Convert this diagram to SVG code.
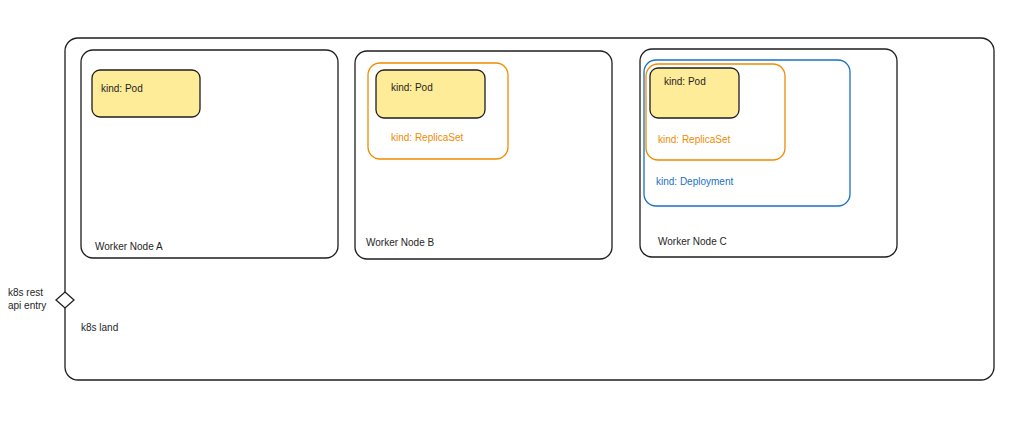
<svg xmlns="http://www.w3.org/2000/svg" width="1024" height="441" viewBox="0 0 1024 441">
<style>
.box{fill:none;stroke:#1e1e1e;stroke-width:1.3}
.pod{fill:#ffec99;stroke:#1e1e1e;stroke-width:1.3}
.rs{fill:none;stroke:#f08c00;stroke-width:1.3}
.dep{fill:none;stroke:#1971c2;stroke-width:1.3}
text{font-family:"Liberation Sans",Arial,sans-serif;font-size:10px;fill:#1e1e1e}
.o{fill:#f08c00}
.b{fill:#1971c2}
</style>
<rect width="1024" height="441" fill="#ffffff"/>
<g id="k8s-land">
<rect class="box" x="65" y="38" width="929" height="342" rx="13"/>
<text x="81" y="331">k8s land</text>
</g>
<g id="worker-a">
<rect class="box" x="81" y="50" width="257" height="208" rx="12"/>
<text x="95" y="250">Worker Node A</text>
</g>
<g id="pod-a">
<rect class="pod" x="92" y="70" width="108" height="47" rx="8"/>
<text x="101" y="92">kind: Pod</text>
</g>
<g id="worker-b">
<rect class="box" x="355" y="51" width="257" height="208" rx="12"/>
<text x="366" y="246">Worker Node B</text>
</g>
<g id="replicaset-b">
<rect class="rs" x="368" y="63" width="140" height="96" rx="12"/>
<text class="o" x="391" y="141">kind: ReplicaSet</text>
</g>
<g id="pod-b">
<rect class="pod" x="376" y="70" width="109" height="48" rx="8"/>
<text x="391" y="91">kind: Pod</text>
</g>
<g id="worker-c">
<rect class="box" x="640" y="49" width="257" height="208" rx="12"/>
<text x="658" y="245">Worker Node C</text>
</g>
<g id="deployment-c">
<rect class="dep" x="644" y="60" width="206" height="146" rx="12"/>
<text class="b" x="656" y="185">kind: Deployment</text>
</g>
<g id="replicaset-c">
<rect class="rs" x="646" y="64" width="139" height="96" rx="12"/>
<text class="o" x="658" y="143">kind: ReplicaSet</text>
</g>
<g id="pod-c">
<rect class="pod" x="650" y="68" width="89" height="50" rx="8"/>
<text x="664" y="85">kind: Pod</text>
</g>
<g id="api-entry">
<polygon class="box" fill="#ffffff" points="65,292 74,300 65,308 56,300" style="fill:#ffffff"/>
<text x="8" y="296">k8s rest</text>
<text x="8" y="309">api entry</text>
</g>
<g id="connectors"></g>
</svg>
